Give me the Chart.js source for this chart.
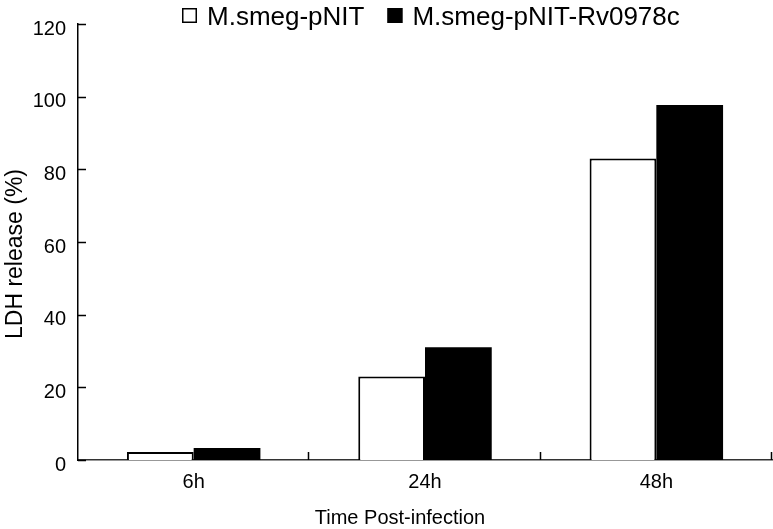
<!DOCTYPE html>
<html>
<head>
<meta charset="utf-8">
<script src="https://cdn.jsdelivr.net/npm/chart.js"></script>
<style>
  html, body { margin: 0; padding: 0; background: #fff; }
</style>
</head>
<body>
<canvas id="myChart" width="773" height="529"></canvas>
<script>
const categories = ['6h', '24h', '48h'];
const controlValues = [2.2, 23, 83];
const rv0978cValues = [3.3, 31, 97.7];
const seriesNames = ['M.smeg-pNIT', 'M.smeg-pNIT-Rv0978c'];
const yTicks = [0, 20, 40, 60, 80, 100, 120];
const yTitle = 'LDH release (%)';
const xTitle = 'Time Post-infection';

const FONT = "'Liberation Sans', Arial, Helvetica, sans-serif";

// inward tick marks, legend and axis titles
const decorations = {
    id: 'decorations',
    afterDraw(chart) {
        const ctx = chart.ctx;
        const area = chart.chartArea;
        const x = chart.scales.x;
        const y = chart.scales.y;
        ctx.save();

        ctx.strokeStyle = '#000';
        ctx.lineWidth = 1.5;
        ctx.beginPath();
        yTicks.forEach(v => {
            const py = Math.round(y.getPixelForValue(v)) + 0.5;
            ctx.moveTo(area.left, py);
            ctx.lineTo(area.left + 8, py);
        });
        [0.5, 1.5, 2.5].forEach(v => {
            const px = Math.round(x.getPixelForValue(v)) - 0.5;
            ctx.moveTo(px, area.bottom);
            ctx.lineTo(px, area.bottom - 8);
        });
        ctx.stroke();

        // legend
        ctx.font = '26px ' + FONT;
        ctx.textBaseline = 'alphabetic';
        ctx.textAlign = 'left';
        let lx = 182;
        chart.data.datasets.forEach((ds, i) => {
            const box = 15;
            ctx.fillStyle = ds.backgroundColor;
            ctx.fillRect(lx, 8, box, box);
            ctx.lineWidth = 1.5;
            ctx.strokeStyle = '#000';
            ctx.strokeRect(lx + 0.75, 8.75, box - 1.5, box - 1.5);
            ctx.fillStyle = '#000';
            ctx.fillText(ds.label, lx + box + 10, 25);
            lx += box + 10 + ctx.measureText(ds.label).width + 23;
        });

        // axis titles
        ctx.fillStyle = '#000';
        ctx.font = '20px ' + FONT;
        ctx.textAlign = 'center';
        ctx.fillText(xTitle, 400, 524);

        ctx.font = '23px ' + FONT;
        ctx.translate(22, 254);
        ctx.rotate(-Math.PI / 2);
        ctx.fillText(yTitle, 0, 0);
        ctx.restore();
    }
};

new Chart(document.getElementById('myChart'), {
    type: 'bar',
    data: {
        labels: categories,
        datasets: [{
            label: seriesNames[0],
            data: controlValues,
            backgroundColor: '#fff',
            borderColor: '#000',
            borderWidth: 2
        }, {
            label: seriesNames[1],
            data: rv0978cValues,
            backgroundColor: '#000',
            borderColor: '#000',
            borderWidth: 0
        }]
    },
    options: {
        responsive: false,
        devicePixelRatio: 1,
        animation: false,
        layout: { padding: { top: 18, right: 1, bottom: 0, left: 0 } },
        datasets: { bar: { barPercentage: 1, categoryPercentage: 0.577 } },
        plugins: {
            legend: { display: false },
            tooltip: { enabled: false }
        },
        scales: {
            x: {
                grid: { display: false, drawTicks: false },
                border: { display: true, color: '#333', width: 1.5 },
                ticks: { color: '#000', font: { family: FONT, size: 20 }, padding: 10 },
                afterFit: s => { s.height = 69; }
            },
            y: {
                min: 0,
                max: 120,
                grid: { display: false, drawTicks: false },
                border: { display: true, color: '#000', width: 1.5 },
                ticks: { stepSize: 20, color: '#000', font: { family: FONT, size: 20 }, padding: 12, labelOffset: 5 },
                afterFit: s => { s.width = 78; }
            }
        }
    },
    plugins: [decorations]
});
</script>
</body>
</html>
